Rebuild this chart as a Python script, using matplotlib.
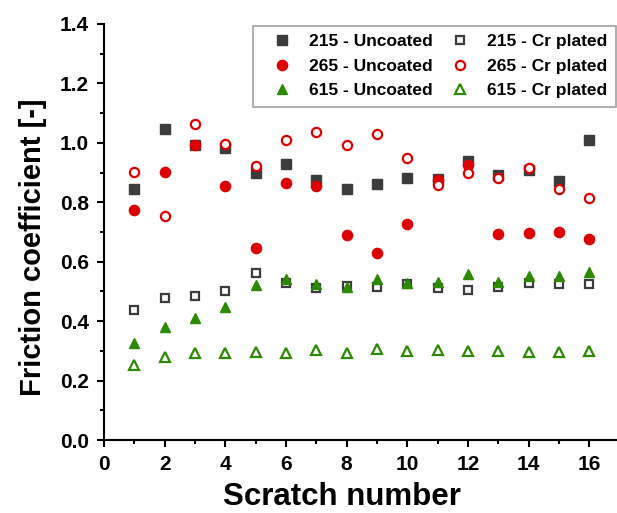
import matplotlib
matplotlib.use("Agg")
import matplotlib.pyplot as plt
from matplotlib.ticker import MultipleLocator

plt.rcParams['font.family'] = ['Liberation Sans', 'DejaVu Sans']
plt.rcParams['font.weight'] = 'bold'

scratch = list(range(1, 17))

s215_uncoated = [0.845, 1.047, 0.993, 0.984, 0.900, 0.929, 0.875, 0.846,
                 0.862, 0.881, 0.880, 0.939, 0.892, 0.909, 0.872, 1.009]
s265_uncoated = [0.774, 0.902, 0.993, 0.855, 0.646, 0.866, 0.854, 0.689,
                 0.630, 0.727, 0.875, 0.926, 0.693, 0.695, 0.699, 0.678]
s615_uncoated = [0.325, 0.379, 0.411, 0.447, 0.521, 0.543, 0.526, 0.514,
                 0.543, 0.528, 0.531, 0.560, 0.531, 0.551, 0.552, 0.564]
s215_cr = [0.438, 0.479, 0.486, 0.500, 0.561, 0.529, 0.511, 0.518,
           0.514, 0.526, 0.511, 0.506, 0.515, 0.530, 0.524, 0.526]
s265_cr = [0.902, 0.754, 1.064, 0.995, 0.923, 1.010, 1.038, 0.992,
           1.029, 0.948, 0.858, 0.898, 0.883, 0.914, 0.844, 0.813]
s615_cr = [0.253, 0.281, 0.293, 0.294, 0.296, 0.292, 0.303, 0.294,
           0.305, 0.301, 0.303, 0.300, 0.299, 0.297, 0.296, 0.300]

labels = ["215 - Uncoated", "265 - Uncoated", "615 - Uncoated",
          "215 - Cr plated", "265 - Cr plated", "615 - Cr plated"]

gray = "#3c3c3c"
red = "#dd0000"
green = "#2b8a00"

fig = plt.figure(figsize=(6.17, 5.13), dpi=100)
ax = fig.add_axes([104/617, 73/513, 512/617, 416/513])

ms = 7
ax.plot(scratch, s215_uncoated, ls='none', marker='s', ms=ms*0.95, color=gray, mec=gray, label=labels[0], zorder=2)
ax.plot(scratch, s265_uncoated, ls='none', marker='o', ms=ms*1.05, color=red, mec=red, label=labels[1], zorder=4)
ax.plot(scratch, s615_uncoated, ls='none', marker='^', ms=ms*1.1, color=green, mec=green, label=labels[2], zorder=4)
ax.plot(scratch, s215_cr, ls='none', marker='s', ms=ms*0.85, mfc='white', mec=gray, mew=1.6, label=labels[3], zorder=3)
ax.plot(scratch, s265_cr, ls='none', marker='o', ms=ms*0.95, mfc='white', mec=red, mew=1.6, label=labels[4], zorder=5)
ax.plot(scratch, s615_cr, ls='none', marker='^', ms=ms*1.05, mfc='white', mec=green, mew=1.6, label=labels[5], zorder=5)

ax.set_xlim(0, 16.88)
ax.set_ylim(0, 1.4)
ax.xaxis.set_major_locator(MultipleLocator(2))
ax.xaxis.set_minor_locator(MultipleLocator(1))
ax.yaxis.set_major_locator(MultipleLocator(0.2))
ax.yaxis.set_minor_locator(MultipleLocator(0.1))
ax.xaxis.set_major_formatter(plt.FuncFormatter(lambda v, p: f"{int(round(v))}"))
ax.yaxis.set_major_formatter(plt.FuncFormatter(lambda v, p: f"{v:.1f}"))

for s in ['top', 'right']:
    ax.spines[s].set_visible(False)
for s in ['left', 'bottom']:
    ax.spines[s].set_linewidth(1.5)
    ax.spines[s].set_color('black')

ax.tick_params(which='major', direction='out', length=5, width=1.5, labelsize=15, pad=6)
ax.tick_params(which='minor', direction='out', length=3, width=1.5)
for lbl in ax.get_xticklabels() + ax.get_yticklabels():
    lbl.set_fontweight('bold')

ax.set_xlabel("Scratch number", fontsize=22.5, fontweight='bold')
ax.xaxis.set_label_coords(0.465, -0.1)
ax.set_ylabel("Friction coefficient [-]", fontsize=21, fontweight='bold')
ax.yaxis.set_label_coords(-0.112, 0.464)

leg = ax.legend(ncol=2, loc='upper right', bbox_to_anchor=(1.0, 0.996),
                frameon=True, fancybox=False, edgecolor='#888888', borderaxespad=0.0,
                handletextpad=0.4, columnspacing=0.45, labelspacing=0.52,
                prop={'weight': 'bold', 'size': 12.5}, borderpad=0.5, handlelength=2.3)
leg.get_frame().set_linewidth(1.2)

fig.savefig("out.png", dpi=100, facecolor='white')
